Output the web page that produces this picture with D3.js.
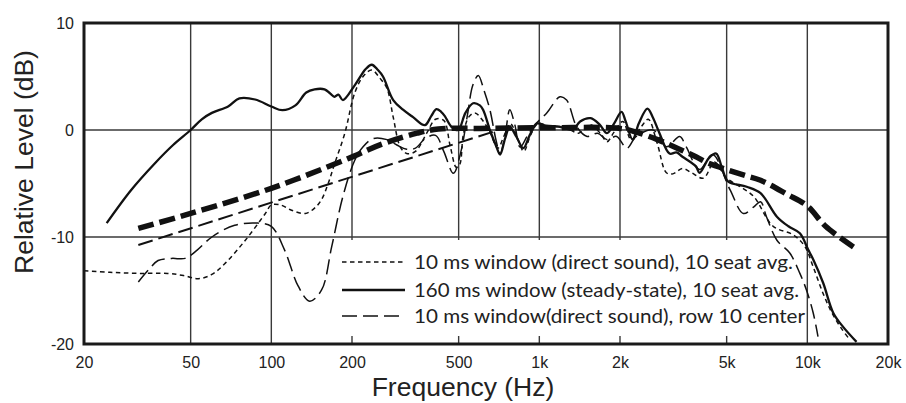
<!DOCTYPE html>
<html><head><meta charset="utf-8">
<script src="https://cdn.jsdelivr.net/npm/d3@7"></script>
<style>html,body{margin:0;padding:0;background:#fff}svg{display:block}</style>
</head><body>
<svg id="chart" width="906" height="403"></svg>
<script>
// ---------- data ----------
const xTicks = [20, 50, 100, 200, 500, 1000, 2000, 5000, 10000, 20000];
const xTickLabels = ["20", "50", "100", "200", "500", "1k", "2k", "5k", "10k", "20k"];
const yTicks = [10, 0, -10, -20];
const yTickLabels = ["10", "0", "-10", "-20"];
const legendLabels = [
  "10 ms window (direct sound), 10 seat avg.",
  "160 ms window (steady-state), 10 seat avg.",
  "10 ms window(direct sound), row 10 center"
];

// [frequency Hz, level dB]
const direct10SeatAvg = [
  [20,-13.15],[25,-13.3],[32,-13.4],[41,-13.4],[47,-13.6],[53.4,-13.9],[60,-13.5],[67,-12.5],
  [80,-10.3],[95,-7.8],[100,-7.0],[108,-7.0],[119,-7.5],[134,-7.8],[145,-7.3],[154,-6.5],
  [163,-5.0],[172,-3.2],[188,-0.3],[205,3.5],[220,5.0],[237,5.6],[255,4.8],[270,3.9],
  [285,1.2],[303,-1.6],[320,-2.2],[345,-2.0],[380,-0.3],[410,1.0],[440,0.9],[465,-1.5],
  [490,-3.5],[505,-3.2],[520,-0.5],[545,1.2],[575,1.6],[610,1.0],[654,-0.2],[700,-1.7],
  [740,-0.5],[780,0.6],[830,-0.8],[875,-2.0],[930,-0.4],[990,0.6],[1100,0.3],[1250,0.3],
  [1400,-0.3],[1550,0.5],[1700,-0.4],[1788,-1.1],[1900,-0.2],[2050,0.8],[2200,-0.9],
  [2400,0.3],[2550,1.0],[2750,-1.2],[2980,-4.0],[3150,-4.1],[3420,-3.6],[3700,-4.0],
  [4100,-4.5],[4500,-3.0],[5000,-4.5],[5620,-5.3],[6300,-6.2],[7460,-9.0],[8860,-9.8],
  [9800,-10.9],[10520,-12.8],[11460,-15.3],[12300,-17.0],[13280,-18.4],[14400,-19.6]
];
const steady10SeatAvg = [
  [24.3,-8.7],[30,-5.6],[36.8,-3.1],[43,-1.4],[50,0],[55,1.0],[60,1.6],[69,2.2],[76,2.95],
  [87,2.85],[100,2.2],[110,1.85],[123,2.3],[135,3.5],[145,3.8],[158,3.8],[166,3.4],[172,3.1],
  [178,3.3],[185,2.8],[205,4.2],[225,5.7],[237,6.1],[250,5.6],[261,5.0],[285,2.8],[310,1.9],
  [338,1.2],[374,0.45],[395,1.3],[413,1.95],[430,1.7],[444,1.3],[470,0.3],[498,0],[530,1.6],
  [566,2.5],[600,2.3],[618,1.85],[654,0],[690,-1.5],[714,-2.3],[745,-0.8],[776,0.3],[820,-0.6],
  [872,-1.7],[920,-0.5],[978,0.6],[1060,0.4],[1194,0.3],[1270,0.1],[1336,0],[1420,0.8],
  [1554,1.1],[1680,0.5],[1788,-0.3],[1900,0.6],[2027,1.7],[2100,0.8],[2230,-0.9],[2350,0.6],
  [2530,2.0],[2650,1.2],[2808,-0.3],[3060,-2.2],[3250,-2.1],[3420,-2.5],[3840,-3.4],
  [3960,-4.0],[4300,-2.6],[4570,-2.2],[4800,-3.5],[5060,-4.8],[5940,-5.3],[6690,-5.9],
  [7700,-8.1],[8500,-9.0],[9380,-9.65],[10080,-11.2],[10520,-12.1],[11460,-14.3],
  [12500,-17.1],[13600,-18.4],[15260,-19.8]
];
const directRow10Center = [
  [31.9,-14.2],[35,-13.0],[37.8,-12.2],[42.5,-12.0],[47.7,-12.0],[53,-11.2],[60,-10.0],
  [73,-8.9],[89,-8.7],[100,-9.0],[112,-11.2],[126,-14.6],[139,-16.0],[154,-14.95],[168,-10.9],
  [185,-6.2],[205,-2.8],[220,-1.56],[240,-0.8],[270,-0.9],[294,-1.4],[320,-1.8],[345,-1.7],
  [375,-0.8],[410,-0.5],[440,-2.0],[478,-4.05],[510,-2.0],[540,1.5],[565,4.2],[592,5.1],
  [620,3.8],[654,1.9],[690,-1.0],[714,-2.2],[745,-0.5],[776,1.9],[810,0.5],[848,-1.6],
  [900,-0.6],[948,0.3],[1066,1.6],[1194,3.1],[1264,2.8],[1380,0.3],[1508,-0.6],[1650,-0.3],
  [1788,-0.9],[1944,-0.6],[2120,-1.7],[2300,-0.6],[2660,0.0],[2980,-1.56],[3340,-0.6],
  [3530,-1.56],[3960,-3.7],[4430,-2.3],[5150,-5.6],[5770,-7.8],[6300,-7.2],[6690,-6.7],
  [7040,-8.1],[7700,-10.3],[8600,-11.5],[9380,-13.4],[9940,-15.0],[10520,-17.1],[10960,-19.3]
];
const targetThick = [
  [31.9,-9.2],[50,-7.8],[100,-5.45],[188,-2.8],[260,-1.3],[350,-0.3],[420,0.1],[600,0.15],
  [1000,0.2],[2000,0.15],[2300,-0.2],[2760,-0.9],[3270,-1.7],[3840,-2.5],[4270,-3.1],
  [5770,-4.2],[6690,-4.7],[8400,-6.0],[10000,-7.1],[11700,-9.0],[15000,-11.0]
];
const targetThin = [
  [31.9,-10.75],[705,0]
];

// ---------- layout ----------
const svg = d3.select("#chart");
const L = 84, R = 888, T = 23, B = 344;
const x = d3.scaleLog().domain([20, 20000]).range([L, R]);
const y = d3.scaleLinear().domain([-20, 10]).range([B, T]);
const axisFont = "'Liberation Sans', Arial, Helvetica, sans-serif";
const legendFont = "Lato, 'Open Sans', sans-serif";

// gridlines
const grid = svg.append("g").attr("stroke", "#3a3a3a").attr("stroke-width", 1.4);
grid.selectAll("line.v").data(xTicks.slice(1, -1)).join("line")
  .attr("x1", d => x(d)).attr("x2", d => x(d)).attr("y1", T).attr("y2", B);
grid.selectAll("line.h").data(yTicks.slice(1, -1)).join("line")
  .attr("x1", L).attr("x2", R).attr("y1", d => y(d)).attr("y2", d => y(d));

// legend background box
svg.append("rect").attr("x", 336).attr("y", 240).attr("width", 470).attr("height", 96)
  .attr("fill", "#fff");

// curves
const line = d3.line().x(d => x(d[0])).y(d => y(d[1])).curve(d3.curveCatmullRom.alpha(0.5));
const styles = [
  {data: targetThin, w: 2.0, dash: "15,6", curve: d3.curveLinear},
  {data: targetThick, w: 5.5, dash: "16,6"},
  {data: direct10SeatAvg, w: 1.5, dash: "4.5,3.5"},
  {data: directRow10Center, w: 1.5, dash: "15,6"},
  {data: steady10SeatAvg, w: 2.3, dash: null}
];
styles.forEach(s => {
  const ln = s.curve ? d3.line().x(d => x(d[0])).y(d => y(d[1])).curve(s.curve) : line;
  svg.append("path").attr("d", ln(s.data)).attr("fill", "none")
    .attr("stroke", "#111").attr("stroke-width", s.w)
    .attr("stroke-dasharray", s.dash).attr("stroke-linejoin", "round");
});

// frame
svg.append("rect").attr("x", L).attr("y", T).attr("width", R - L).attr("height", B - T)
  .attr("fill", "none").attr("stroke", "#1a1a1a").attr("stroke-width", 3);

// axes (labels only, using d3 axis generators)
const xAxis = d3.axisBottom(x).tickValues(xTicks).tickFormat((d, i) => xTickLabels[i]).tickSize(0).tickPadding(13);
const gx = svg.append("g").attr("transform", `translate(0,${B})`).call(xAxis);
gx.select(".domain").remove();
gx.selectAll("text").attr("font-family", axisFont).attr("font-size", 16).attr("fill", "#222");

const yAxis = d3.axisLeft(y).tickValues(yTicks).tickFormat((d, i) => yTickLabels[i]).tickSize(0).tickPadding(10);
const gy = svg.append("g").attr("transform", `translate(${L},0)`).call(yAxis);
gy.select(".domain").remove();
gy.selectAll("text").attr("font-family", axisFont).attr("font-size", 16).attr("fill", "#222");

// axis titles
svg.append("text").attr("x", 463).attr("y", 396).attr("text-anchor", "middle")
  .attr("font-family", axisFont).attr("font-size", 26.5).attr("fill", "#222").text("Frequency (Hz)");
svg.append("text").attr("transform", "translate(33,162) rotate(-90)").attr("text-anchor", "middle")
  .attr("font-family", axisFont).attr("font-size", 26.5).attr("fill", "#222").text("Relative Level (dB)");

// legend
const legY = [262, 290, 316];
const legDash = ["4.5,3.5", null, "15,6"];
const legW = [1.6, 2.6, 1.6];
const legTextW = [379, 385, 391];
legendLabels.forEach((lab, i) => {
  svg.append("line").attr("x1", 342).attr("x2", 405).attr("y1", legY[i]).attr("y2", legY[i])
    .attr("stroke", "#111").attr("stroke-width", legW[i]).attr("stroke-dasharray", legDash[i]);
  svg.append("text").attr("x", 414).attr("y", legY[i] + 7).attr("font-family", legendFont)
    .attr("font-size", 19).attr("fill", "#222")
    .attr("textLength", legTextW[i]).attr("lengthAdjust", "spacingAndGlyphs").text(lab);
});
</script>
</body></html>
